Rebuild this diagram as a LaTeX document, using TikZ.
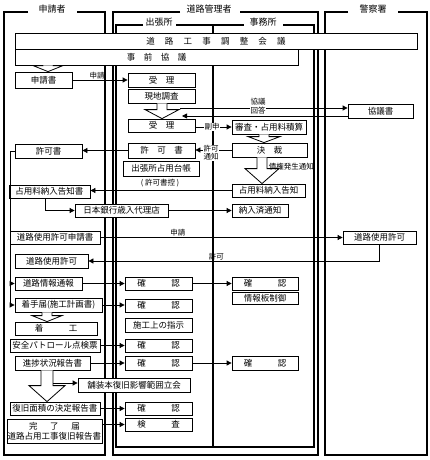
\documentclass[tikz,border=0pt]{standalone}
\usepackage{fontspec}
\setmainfont{Noto Sans CJK JP}
\usetikzlibrary{arrows.meta,calc}
\tikzset{
  bx/.style={draw, line width=0.8pt, fill=white, inner sep=0pt, font=\fontsize{8.5}{10}\selectfont, align=center},
  lane/.style={line width=1.6pt},
  divider/.style={line width=2.4pt},
  arr/.style={line width=0.8pt, -{Triangle[length=5pt,width=5pt]}},
  conn/.style={line width=0.8pt},
  lbl/.style={font=\fontsize{7.5}{8}\selectfont, inner sep=0.6pt, align=center},
  ttl/.style={font=\fontsize{9}{9.5}\selectfont, inner sep=1pt},
  hol/.style={line width=0.8pt, fill=white},
}
\newcommand{\bxnode}[6]{\node[bx, minimum width={(#4-#2)*1pt}, minimum height={(#5-#3)*1pt}] (#1) at ({(#2+#4)/2},{(#3+#5)/2}) {#6};}
\newcommand{\hollowarr}[6]{\draw[hol] let \p1=(#2.south), \p2=(#3.north), \p3=(#1,0) in
  (\x3-#4pt,\y1) -- (\x3-#4pt,\y2+#6pt) -- (\x3-#5pt,\y2+#6pt) -- (\x3,\y2) -- (\x3+#5pt,\y2+#6pt) -- (\x3+#4pt,\y2+#6pt) -- (\x3+#4pt,\y1);}
\begin{document}
\begin{tikzpicture}[x=1pt,y=-1pt]
\useasboundingbox (0,0) rectangle (430,460);
% ---------- lanes ----------
\draw[lane] (28,12) -- (4,12) -- (4,455) -- (105,455) -- (105,12) -- (77,12);
\node[ttl] (tapp) at (52,9) {申請者};
\draw[lane] (180,12) -- (113,12) -- (113,455) -- (318,455) -- (318,12) -- (240,12);
\node[ttl] (tadm) at (209,9) {道路管理者};
\draw[lane] (143,25) -- (116,25) -- (116,447) -- (314,447) -- (314,25) -- (283,25);
\draw[lane] (176,25) -- (244,25);
\node[ttl] (tbr) at (159,22) {出張所};
\node[ttl] (toff) at (263,22) {事務所};
\draw[divider] (213,25) -- (213,447);
\draw[lane] (348,12) -- (325,12) -- (325,455) -- (427,455) -- (427,12) -- (398,12);
\node[ttl] (tpol) at (373,9) {警察署};
% ---------- boxes ----------
\bxnode{kaigi}{15}{33}{417}{49}{道\hspace{1.2em}路\hspace{1.2em}工\hspace{1.2em}事\hspace{1.2em}調\hspace{1.2em}整\hspace{1.2em}会\hspace{1.2em}議}
\bxnode{jizen}{15}{49}{298}{65}{事\hspace{1em}前\hspace{1em}協\hspace{1em}議}
\bxnode{shinsei}{15}{72}{72}{88}{申請書}
\bxnode{juri1}{128}{73}{195}{87}{受\hspace{1em}理}
\bxnode{genchi}{128}{89}{195}{103}{現地調査}
\bxnode{kyogisho}{348}{104}{413}{118}{協議書}
\bxnode{juri2}{128}{119}{195}{132}{受\hspace{1em}理}
\bxnode{shinsa}{232}{120}{306}{134}{審査・占用料積算}
\bxnode{kessai}{232}{143}{307}{157}{決\hspace{1em}裁}
\bxnode{kyokaM}{128}{143}{195}{158}{許\hspace{1em}可\hspace{1em}書}
\bxnode{kyokaL}{15}{144}{82}{158}{許可書}
\bxnode{daicho}{123}{161}{199}{176}{出張所占用台帳}
\node[lbl] (hikae) at (160,183) {(\ 許可書控\ )};
\bxnode{nonyuL}{9}{185}{90}{198}{占用料納入告知書}
\bxnode{nonyuR}{232}{184}{305}{197}{占用料納入告知}
\bxnode{nichigin}{75}{204}{168}{217}{日本銀行歳入代理店}
\bxnode{nonyuzumi}{232}{204}{288}{217}{納入済通知}
\bxnode{dsshinsei}{10}{231}{100}{244}{道路使用許可申請書}
\bxnode{dskyokaP}{343}{231}{416}{244}{道路使用許可}
\bxnode{dskyokaL}{15}{254}{88}{268}{道路使用許可}
\bxnode{johotsuho}{15}{277}{82}{290}{道路情報通報}
\bxnode{kakunin1}{125}{277}{192}{290}{確\hspace{3em}認}
\bxnode{kakuninR1}{232}{277}{298}{290}{確\hspace{3em}認}
\bxnode{johoban}{232}{292}{298}{304}{情報板制御}
\bxnode{chakushu}{15}{298}{102}{312}{着手届(施工計画書)}
\bxnode{kakunin2}{125}{299}{192}{312}{確\hspace{3em}認}
\bxnode{shiji}{125}{318}{192}{332}{施工上の指示}
\bxnode{chakko}{15}{322}{97}{335}{着\hspace{3em}工}
\bxnode{patrol}{10}{339}{100}{352}{安全パトロール点検票}
\bxnode{kakunin3}{125}{339}{192}{352}{確\hspace{3em}認}
\bxnode{shinchoku}{15}{356}{90}{370}{進捗状況報告書}
\bxnode{kakunin4}{125}{356}{192}{370}{確\hspace{3em}認}
\bxnode{kakuninR2}{232}{356}{298}{370}{確\hspace{3em}認}
\bxnode{hosou}{78}{378}{190}{392}{舗装本復旧影響範囲立会}
\bxnode{fukkyu}{10}{402}{100}{415}{復旧面積の決定報告書}
\bxnode{kakunin5}{125}{402}{192}{415}{確\hspace{3em}認}
\bxnode{kanryo}{7}{419}{102}{443}{完\hspace{1.5em}了\hspace{1.5em}届\\道路占用工事復旧報告書}
\bxnode{kensa}{125}{418}{192}{431}{検\hspace{3em}査}
% ---------- hollow (block) arrows ----------
\hollowarr{48}{jizen}{shinsei}{5}{15}{6}
\hollowarr{162}{genchi}{juri2}{5}{17}{9}
\hollowarr{264}{shinsa}{kessai}{5}{16}{6}
\hollowarr{262}{kessai}{nonyuR}{5}{17}{15}
\hollowarr{47}{chakushu}{chakko}{5}{15}{6}
\hollowarr{47}{shinchoku}{fukkyu}{6}{18}{16}
\node[lbl, anchor=west] (saiken) at (268,167) {債権発生通知};
% ---------- connectors ----------
\draw[arr] (shinsei.east) -- (juri1.west) node[lbl, pos=0.45, above] {申請};
\coordinate (k1) at (180,108);
\coordinate (k2) at (182,116);
\draw[arr] (k1) -- (k1 -| kyogisho.west);
\draw[arr] (k2 -| kyogisho.west) -- (k2);
\node[lbl] (lkyogi) at (258,102) {協議};
\node[lbl, fill=white] (lkaito) at (258,111) {回答};
\draw[arr] (juri2.east |- shinsa.west) -- (shinsa.west);
\node[lbl, fill=white] (lfukushin) at (212,127) {副申};
\draw[arr] (kessai.west) -- (kessai.west -| kyokaM.east);
\node[lbl, fill=white] (lkyoka) at (211,153) {許可\\通知};
\draw[arr] (kyokaM.west) -- (kyokaM.west -| kyokaL.east);
\coordinate (vbot) at (10,305);
\draw[conn] (kyokaL.west) -| (vbot);
\draw[arr] (johotsuho.west -| vbot) -- (johotsuho.west);
\draw[arr] (vbot) -- (vbot -| chakushu.west);
\draw[arr] (nonyuR.west) -- (nonyuR.west -| nonyuL.east);
\draw[arr] ([xshift=-4pt]nonyuL.south) |- (nichigin.west);
\draw[arr] (nichigin.east) -- (nichigin.east -| nonyuzumi.west);
\draw[arr] (dsshinsei.east) -- (dskyokaP.west) node[lbl, pos=0.32, above] {申請};
\draw[arr] (dskyokaP.south) |- (dskyokaL.east) node[lbl, pos=0.78, above] {許可};
\draw[arr] (johotsuho.east) -- (johotsuho.east -| kakunin1.west);
\draw[arr] (kakunin1.east) -- (kakunin1.east -| kakuninR1.west);
\draw[arr] (chakushu.east) -- (chakushu.east -| kakunin2.west);
\draw[arr] (patrol.east) -- (patrol.east -| kakunin3.west);
\draw[arr] (shinchoku.east) -- (shinchoku.east -| kakunin4.west);
\draw[arr] (kakunin4.east) -- (kakunin4.east -| kakuninR2.west);
\coordinate (hs) at (53,383);
\draw[arr] (hs) -- (hs -| hosou.west);
\draw[arr] (fukkyu.east) -- (fukkyu.east -| kakunin5.west);
\draw[arr] (kensa.west -| kanryo.east) -- (kensa.west);
\end{tikzpicture}
\end{document}
